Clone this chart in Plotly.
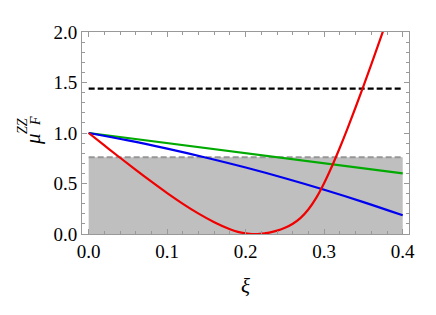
import plotly.graph_objects as go

# Data
xi_red = [0.0, 0.02, 0.04, 0.06, 0.08, 0.10, 0.12, 0.14, 0.16, 0.18, 0.19, 0.20, 0.205,
          0.2115, 0.218, 0.225, 0.23, 0.24, 0.25, 0.26, 0.27, 0.28, 0.29, 0.30, 0.31,
          0.32, 0.33, 0.34, 0.35, 0.36, 0.37, 0.38]
mu_red = [1.00, 0.877, 0.755, 0.635, 0.518, 0.405, 0.299, 0.202, 0.117, 0.047, 0.021, 0.006, 0.0018,
          0.0, 0.0019, 0.008, 0.014, 0.033, 0.061, 0.102, 0.16, 0.245, 0.36, 0.505, 0.673,
          0.856, 1.051, 1.255, 1.465, 1.68, 1.899, 2.121]

xi_blue = [0.0, 0.05, 0.10, 0.15, 0.20, 0.25, 0.30, 0.35, 0.40]
mu_blue = [1.00, 0.927, 0.845, 0.755, 0.658, 0.552, 0.438, 0.316, 0.185]

xi_green = [0.0, 0.40]
mu_green = [1.00, 0.60]

xi_band = [0.0, 0.40]
band_level = [0.76, 0.76]
black_level = [1.44, 1.44]

x_ticks = [0.0, 0.1, 0.2, 0.3, 0.4]
x_ticklabels = ["0.0", "0.1", "0.2", "0.3", "0.4"]
y_ticks = [0.0, 0.5, 1.0, 1.5, 2.0]
y_ticklabels = ["0.0", "0.5", "1.0", "1.5", "2.0"]

FONT = "Liberation Serif"
FRAME = "#999999"

fig = go.Figure()

fig.add_trace(go.Scatter(x=xi_band, y=band_level, mode="lines", fill="tozeroy",
                         fillcolor="rgb(191,191,191)",
                         line=dict(color="rgb(150,150,150)", width=2, dash="6px,3px"),
                         hoverinfo="skip"))
fig.add_trace(go.Scatter(x=xi_band, y=black_level, mode="lines",
                         line=dict(color="black", width=2.2, dash="6px,3px")))
fig.add_trace(go.Scatter(x=xi_green, y=mu_green, mode="lines",
                         line=dict(color="rgb(0,170,0)", width=2.2)))
fig.add_trace(go.Scatter(x=xi_blue, y=mu_blue, mode="lines", line_shape="spline",
                         line=dict(color="rgb(0,0,240)", width=2.2)))
fig.add_trace(go.Scatter(x=xi_red, y=mu_red, mode="lines", line_shape="spline",
                         line=dict(color="rgb(240,0,0)", width=2.2)))

axis_common = dict(showgrid=False, zeroline=False, showline=True, linecolor=FRAME,
                   linewidth=1, mirror="ticks", ticks="inside", tickcolor=FRAME,
                   ticklen=5, tickwidth=1,
                   tickfont=dict(family=FONT, size=19, color="black"))

fig.update_xaxes(range=[-0.0085, 0.408], tickvals=x_ticks, ticktext=x_ticklabels,
                 minor=dict(dtick=0.02, ticks="inside", ticklen=3, tickcolor=FRAME),
                 **axis_common)
fig.update_yaxes(range=[0, 2], tickvals=y_ticks, ticktext=y_ticklabels,
                 minor=dict(dtick=0.1, ticks="inside", ticklen=3, tickcolor=FRAME),
                 **axis_common)

annotations = [
    dict(text="<i>ξ</i>", xref="paper", yref="paper", x=0.5, y=0, xanchor="center",
         yanchor="middle", yshift=-52, xshift=0, showarrow=False,
         font=dict(family=FONT, size=21, color="black")),
    dict(text="<i>μ</i>", xref="paper", yref="paper", x=0, y=0.5, xanchor="center",
         yanchor="middle", xshift=-49, yshift=-6, textangle=-90, showarrow=False,
         font=dict(family=FONT, size=21, color="black")),
    dict(text="<i>F</i>", xref="paper", yref="paper", x=0, y=0.5, xanchor="center",
         yanchor="middle", xshift=-47, yshift=12, textangle=-90, showarrow=False,
         font=dict(family=FONT, size=14, color="black")),
    dict(text="<i>ZZ</i>", xref="paper", yref="paper", x=0, y=0.5, xanchor="center",
         yanchor="middle", xshift=-60, yshift=7, textangle=-90, showarrow=False,
         font=dict(family=FONT, size=14, color="black")),
]

fig.update_layout(width=436, height=315, showlegend=False,
                  margin=dict(l=82, r=27, t=32, b=81),
                  plot_bgcolor="white", paper_bgcolor="white",
                  font=dict(family=FONT),
                  annotations=annotations)

fig.write_html("out.html", config={"displayModeBar": False},
               post_script="document.body.style.margin='0';")
